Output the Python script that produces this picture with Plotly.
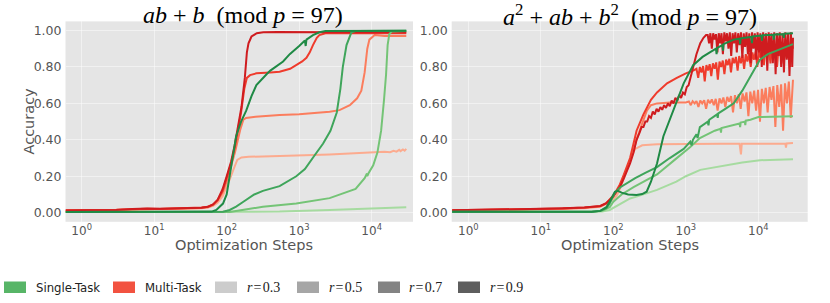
import plotly.graph_objects as go

# ---------------- data: left panel  ab+b (mod 97) ----------------
L_MT03_x = [0.6, 1, 2, 3, 5, 8, 12, 20, 30, 45, 55, 65, 75, 88, 100, 112, 125, 140, 160, 200, 537, 1000, 2630, 9300, 15000, 18000, 20000, 22000, 24000, 25000, 27000, 28500, 30000]
L_MT03_y = [0.011, 0.012, 0.013, 0.014, 0.017, 0.019, 0.018, 0.02, 0.022, 0.025, 0.028, 0.038, 0.055, 0.09, 0.14, 0.19, 0.24, 0.29, 0.303, 0.307, 0.311, 0.313, 0.32, 0.33, 0.335, 0.332, 0.34, 0.335, 0.345, 0.338, 0.347, 0.34, 0.35]

L_MT05_x = [0.6, 1, 2, 3, 5, 8, 12, 20, 30, 45, 55, 65, 75, 88, 100, 115, 130, 155, 170, 185, 250, 537, 1000, 2630, 3600, 5000, 6300, 7200, 8000, 8700, 9300, 11000, 15000, 30000]
L_MT05_y = [0.012, 0.012, 0.013, 0.015, 0.018, 0.02, 0.019, 0.021, 0.023, 0.026, 0.03, 0.042, 0.065, 0.11, 0.17, 0.25, 0.33, 0.46, 0.51, 0.52, 0.527, 0.536, 0.54, 0.554, 0.563, 0.59, 0.628, 0.67, 0.77, 0.9, 0.95, 0.975, 0.97, 0.97]

L_MT07_x = [0.6, 1, 2, 3, 5, 8, 12, 20, 30, 45, 55, 65, 75, 88, 100, 115, 130, 158, 175, 190, 210, 257, 400, 537, 750, 912, 1100, 1260, 1400, 1550, 1750, 1900, 2300, 5000, 10000, 30000]
L_MT07_y = [0.013, 0.013, 0.015, 0.016, 0.019, 0.022, 0.02, 0.023, 0.025, 0.028, 0.033, 0.045, 0.07, 0.12, 0.19, 0.27, 0.36, 0.55, 0.68, 0.74, 0.755, 0.765, 0.77, 0.774, 0.79, 0.81, 0.83, 0.85, 0.88, 0.92, 0.96, 0.975, 0.985, 0.985, 0.985, 0.985]

L_MT09_x = [0.6, 1, 2, 3, 5, 8, 12, 20, 30, 45, 55, 65, 75, 88, 100, 115, 129, 145, 160, 178, 190, 200, 220, 260, 320, 500, 1000, 3000, 10000, 30000]
L_MT09_y = [0.012, 0.013, 0.014, 0.015, 0.02, 0.023, 0.021, 0.022, 0.024, 0.027, 0.032, 0.045, 0.07, 0.13, 0.2, 0.28, 0.37, 0.48, 0.58, 0.74, 0.88, 0.93, 0.967, 0.985, 0.99, 0.992, 0.99, 0.99, 0.99, 0.99]

L_ST03_x = [0.6, 1, 5, 20, 50, 150, 537, 2630, 10000, 30000]
L_ST03_y = [0.004, 0.004, 0.003, 0.002, 0.002, 0.003, 0.006, 0.015, 0.022, 0.03]

L_ST05_x = [0.6, 1, 5, 20, 50, 110, 200, 316, 912, 2630, 6000, 8000, 8600, 8700, 9000, 10500, 12000, 13500, 14800, 15800, 16600, 17500, 19000, 30000]
L_ST05_y = [0.004, 0.004, 0.003, 0.002, 0.002, 0.004, 0.02, 0.033, 0.05, 0.08, 0.13, 0.19, 0.215, 0.2, 0.215, 0.26, 0.33, 0.45, 0.62, 0.76, 0.92, 0.98, 0.995, 0.997]

L_ST07_x = [0.6, 1, 5, 20, 50, 89, 110, 135, 170, 200, 240, 316, 537, 912, 1200, 1600, 2140, 2700, 3300, 3700, 4000, 4500, 5250, 6000, 30000]
L_ST07_y = [0.004, 0.004, 0.003, 0.002, 0.002, 0.005, 0.015, 0.033, 0.06, 0.08, 0.1, 0.12, 0.146, 0.2, 0.24, 0.31, 0.38, 0.45, 0.55, 0.68, 0.8, 0.92, 0.99, 0.997, 0.998]

L_ST09_x = [0.6, 1, 5, 20, 50, 62, 72, 80, 89, 100, 110, 122, 135, 158, 186, 220, 257, 355, 400, 600, 741, 1000, 1150, 1200, 1230, 1260, 1550, 1900, 2300, 5000, 30000]
L_ST09_y = [0.004, 0.004, 0.003, 0.002, 0.003, 0.006, 0.015, 0.03, 0.05, 0.1, 0.2, 0.32, 0.42, 0.5, 0.56, 0.64, 0.7, 0.76, 0.78, 0.83, 0.87, 0.915, 0.935, 0.945, 0.915, 0.95, 0.975, 0.99, 0.997, 0.998, 0.998]

# ---------------- data: right panel  a^2+ab+b^2 (mod 97) ----------------
R_MT03_x = [0.6, 1, 2, 5, 10, 20, 40, 66, 89, 110, 123, 140, 160, 180, 200, 250, 400, 1000, 3000, 5500, 5750, 5900, 8000, 15000, 23500, 24000, 24500, 30000]
R_MT03_y = [0.012, 0.012, 0.013, 0.015, 0.018, 0.02, 0.025, 0.032, 0.06, 0.09, 0.13, 0.19, 0.26, 0.32, 0.35, 0.37, 0.375, 0.378, 0.378, 0.378, 0.32, 0.378, 0.378, 0.38, 0.38, 0.357, 0.38, 0.382]

R_MT05_x = [0.6, 1, 2, 5, 10, 20, 40, 66, 80, 89, 100, 110, 123, 140, 155, 170, 190, 209, 250, 290, 330, 400, 600, 1000,
            1100, 1170, 1240, 1320, 1400, 1490, 1580, 1680, 1790, 1900, 2020, 2150, 2280, 2430, 2580, 2740, 2910, 3100, 3290, 3500,
            3720, 3950, 4200, 4470, 4750, 5050, 5370, 5700, 6060, 6450, 6850, 7280, 7740, 8230, 8750, 9300, 9890, 10510, 11170,
            11880, 12620, 13420, 14270, 15160, 16120, 17140, 18220, 19370, 20590, 21880, 23260, 24730, 26290, 27940, 30000]
R_MT05_y = [0.012, 0.013, 0.014, 0.016, 0.02, 0.022, 0.027, 0.034, 0.05, 0.068, 0.09, 0.112, 0.145, 0.2, 0.24, 0.28, 0.34, 0.4, 0.49, 0.56, 0.59, 0.6, 0.605, 0.605,
            0.61, 0.59, 0.612, 0.6, 0.613, 0.58, 0.615, 0.6, 0.617, 0.57, 0.62, 0.6, 0.622, 0.59, 0.625, 0.56, 0.628, 0.6, 0.632, 0.58,
            0.636, 0.61, 0.64, 0.55, 0.645, 0.6, 0.65, 0.57, 0.655, 0.61, 0.66, 0.53, 0.665, 0.6, 0.67, 0.56, 0.675, 0.5, 0.68,
            0.6, 0.685, 0.55, 0.69, 0.62, 0.695, 0.47, 0.7, 0.58, 0.705, 0.45, 0.71, 0.6, 0.72, 0.52, 0.73]

R_MT07_x = [0.6, 1, 2, 5, 10, 20, 40, 66, 80, 89, 100, 110, 123, 140, 155, 170, 190, 209, 260, 330, 400, 550, 750, 1000, 1260,
            1400, 1480, 1560, 1640, 1730, 1820, 1920, 2020, 2130, 2240, 2360, 2490, 2620, 2760, 2910, 3070, 3230, 3400, 3590, 3780,
            3980, 4190, 4420, 4650, 4900, 5170, 5440, 5730, 6040, 6360, 6700, 7060, 7440, 7840, 8260, 8700, 9170, 9660, 10180,
            10720, 11300, 11900, 12540, 13210, 13920, 14670, 15450, 16280, 17150, 18070, 19040, 20060, 21130, 22270, 23460,
            24720, 26040, 27440, 28910, 30000]
R_MT07_y = [0.013, 0.014, 0.015, 0.017, 0.021, 0.023, 0.028, 0.036, 0.052, 0.072, 0.095, 0.12, 0.155, 0.21, 0.26, 0.3, 0.38, 0.45, 0.54, 0.62, 0.66, 0.71, 0.74, 0.765, 0.78,
            0.79, 0.74, 0.8, 0.77, 0.805, 0.72, 0.81, 0.78, 0.815, 0.75, 0.82, 0.79, 0.825, 0.73, 0.83, 0.8, 0.835, 0.76, 0.84, 0.81,
            0.845, 0.77, 0.85, 0.82, 0.855, 0.78, 0.86, 0.82, 0.865, 0.79, 0.87, 0.83, 0.875, 0.8, 0.88, 0.84, 0.885, 0.8, 0.89,
            0.85, 0.895, 0.81, 0.9, 0.86, 0.905, 0.82, 0.91, 0.85, 0.912, 0.8, 0.915, 0.86, 0.918, 0.82, 0.92,
            0.85, 0.925, 0.8, 0.93, 0.9]

R_MT09_x = [0.6, 1, 2, 5, 10, 20, 40, 66, 80, 89, 100, 110, 123, 140, 155, 170, 190, 209, 230, 245, 260, 276, 293, 311, 330, 350,
            372, 395, 419, 445, 472, 501, 532, 565, 600, 637, 676, 718, 762, 809, 859, 912, 968, 1028, 1090, 1150, 1260, 1400,
            1580, 1750, 1900,
            2000, 2090, 2180, 2280, 2380, 2490, 2600, 2720, 2840, 2970, 3100, 3240, 3390, 3540, 3700, 3870, 4040, 4220, 4410,
            4610, 4820, 5040, 5260, 5500, 5750, 6010, 6280, 6560, 6860, 7170, 7490, 7830, 8180, 8550, 8930, 9330, 9750, 10190,
            10650, 11130, 11630, 12150, 12700, 13270, 13870, 14490, 15140, 15830, 16540, 17280, 18060, 18870, 19720, 20610,
            21540, 22510, 23520, 24580, 25690, 26840, 28050, 29310, 30000]
R_MT09_y = [0.013, 0.014, 0.015, 0.017, 0.021, 0.024, 0.029, 0.037, 0.053, 0.07, 0.09, 0.115, 0.14, 0.19, 0.23, 0.27, 0.33, 0.4, 0.44, 0.47, 0.47, 0.5, 0.5, 0.53, 0.52, 0.555,
            0.54, 0.57, 0.555, 0.58, 0.565, 0.59, 0.575, 0.6, 0.585, 0.615, 0.6, 0.63, 0.615, 0.645, 0.63, 0.66, 0.65, 0.69, 0.7, 0.74, 0.8, 0.87,
            0.93, 0.96, 0.975,
            0.975, 0.93, 0.985, 0.9, 0.985, 0.95, 0.98, 0.88, 0.985, 0.93, 0.985, 0.87, 0.99, 0.94, 0.985, 0.9, 0.99, 0.86, 0.985,
            0.93, 0.99, 0.88, 0.985, 0.92, 0.99, 0.85, 0.985, 0.91, 0.99, 0.87, 0.985, 0.82, 0.99, 0.9, 0.985, 0.84, 0.99, 0.88,
            0.985, 0.8, 0.99, 0.86, 0.985, 0.78, 0.99, 0.88, 0.985, 0.82, 0.99, 0.76, 0.985, 0.86, 0.99, 0.8,
            0.985, 0.77, 0.99, 0.84, 0.985, 0.75, 0.99, 0.8, 0.96]

R_ST03_x = [0.6, 1, 5, 20, 50, 70, 89, 110, 138, 170, 209, 280, 400, 740, 1000, 1580, 2500, 4070, 6000, 10500, 30000]
R_ST03_y = [0.004, 0.004, 0.003, 0.003, 0.003, 0.006, 0.015, 0.035, 0.06, 0.078, 0.088, 0.105, 0.125, 0.17, 0.2, 0.235, 0.25, 0.262, 0.275, 0.288, 0.293]

R_ST05_x = [0.6, 1, 5, 20, 50, 70, 89, 100, 130, 190, 280, 400, 700, 1150, 1560, 2500, 3000, 3050, 3100, 4570, 5500, 5600, 5700, 6500, 6600, 6700, 7760, 10000, 15000, 30000]
R_ST05_y = [0.004, 0.004, 0.004, 0.003, 0.004, 0.01, 0.03, 0.06, 0.1, 0.14, 0.175, 0.21, 0.29, 0.36, 0.41, 0.45, 0.46, 0.44, 0.465, 0.48, 0.49, 0.47, 0.495, 0.5, 0.48, 0.505, 0.51, 0.525, 0.528, 0.53]

R_ST07_x = [0.6, 1, 5, 20, 50, 66, 80, 89, 105, 125, 151, 200, 280, 400, 600, 933, 1150, 1200, 1250, 1400, 1450, 1500, 1560, 2000, 2050, 2100, 2700, 2750, 2800, 3500, 4570, 6000, 7760, 9000, 10500, 13500, 17800, 23000, 30000]
R_ST07_y = [0.005, 0.005, 0.004, 0.004, 0.005, 0.01, 0.025, 0.05, 0.11, 0.14, 0.16, 0.19, 0.22, 0.25, 0.3, 0.35, 0.39, 0.37, 0.4, 0.43, 0.41, 0.445, 0.47, 0.5, 0.48, 0.51, 0.54, 0.52, 0.545, 0.57, 0.6, 0.67, 0.75, 0.8, 0.84, 0.87, 0.89, 0.91, 0.925]

R_ST09_x = [0.6, 1, 5, 20, 50, 66, 80, 89, 97, 105, 115, 130, 160, 209, 250, 288, 330, 400, 490, 676, 933, 1260, 1700, 2140, 2600, 2650, 2700, 3200, 3250, 3300, 4570, 5500, 5600, 5700, 8000, 8150, 8300, 11000, 11200, 11400, 16000, 16300, 16600, 22000, 22400, 22800, 30000]
R_ST09_y = [0.005, 0.005, 0.004, 0.004, 0.005, 0.01, 0.03, 0.06, 0.09, 0.115, 0.12, 0.11, 0.1, 0.097, 0.102, 0.115, 0.17, 0.27, 0.42, 0.56, 0.71, 0.81, 0.855, 0.88, 0.9, 0.87, 0.905, 0.92, 0.89, 0.925, 0.95, 0.955, 0.925, 0.957, 0.965, 0.93, 0.967, 0.972, 0.945, 0.974, 0.977, 0.95, 0.978, 0.98, 0.96, 0.982, 0.985]

# ---------------- labels ----------------
TITLE_L = "<i>ab</i> + <i>b</i>  (mod <i>p</i> = 97)"
TITLE_R = "<i>a</i><sup>2</sup> + <i>ab</i> + <i>b</i><sup>2</sup>  (mod <i>p</i> = 97)"
Y_TICKS = [0.0, 0.2, 0.4, 0.6, 0.8, 1.0]
X_TICKS = [1, 10, 100, 1000, 10000]
X_TICKTEXT = ["10<sup>0</sup>", "10<sup>1</sup>", "10<sup>2</sup>", "10<sup>3</sup>", "10<sup>4</sup>"]
HS = "\u200a"
LEGEND_LABELS = ["Single-Task", "Multi-Task",
                 f"<i>r</i>{HS}={HS}0.3", f"<i>r</i>{HS}={HS}0.5", f"<i>r</i>{HS}={HS}0.7", f"<i>r</i>{HS}={HS}0.9"]

RED = {"0.3": "#fcab8f", "0.5": "#fb7d5d", "0.7": "#ef3b2c", "0.9": "#cf1c1f"}
GREEN = {"0.3": "#a6dba0", "0.5": "#74c476", "0.7": "#3fa55b", "0.9": "#1f8a45"}
LEG_COLORS = ["#57b567", "#f25240", "#cccccc", "#a6a6a6", "#838383", "#5e5e5e"]

W, H = 830, 303


def px(x):
    return x / W


def py(y):
    return 1 - y / H


fig = go.Figure()

panels = {
    "x": [(L_MT03_x, L_MT03_y, RED["0.3"]), (L_MT05_x, L_MT05_y, RED["0.5"]),
          (L_MT07_x, L_MT07_y, RED["0.7"]), (L_MT09_x, L_MT09_y, RED["0.9"]),
          (L_ST03_x, L_ST03_y, GREEN["0.3"]), (L_ST05_x, L_ST05_y, GREEN["0.5"]),
          (L_ST07_x, L_ST07_y, GREEN["0.7"]), (L_ST09_x, L_ST09_y, GREEN["0.9"])],
    "x2": [(R_MT03_x, R_MT03_y, RED["0.3"]), (R_MT05_x, R_MT05_y, RED["0.5"]),
           (R_MT07_x, R_MT07_y, RED["0.7"]), (R_MT09_x, R_MT09_y, RED["0.9"]),
           (R_ST03_x, R_ST03_y, GREEN["0.3"]), (R_ST05_x, R_ST05_y, GREEN["0.5"]),
           (R_ST07_x, R_ST07_y, GREEN["0.7"]), (R_ST09_x, R_ST09_y, GREEN["0.9"])],
}
for xa, series in panels.items():
    ya = "y" if xa == "x" else "y2"
    for xs, ys, c in series:
        fig.add_trace(go.Scatter(x=xs, y=ys, xaxis=xa, yaxis=ya, mode="lines",
                                 line=dict(color=c, width=2), showlegend=False,
                                 hoverinfo="skip"))

tickfont = dict(family="DejaVu Sans", size=12, color="#555555")
common_x = dict(type="log", tickvals=X_TICKS, ticktext=X_TICKTEXT, showgrid=True,
                gridcolor="rgba(255,255,255,0.45)", gridwidth=1, zeroline=False,
                showline=False, ticks="", tickfont=tickfont, ticklabelstandoff=0)
common_y = dict(range=[-0.05, 1.05], tickvals=Y_TICKS, tickformat=".2f", showgrid=True,
                gridcolor="rgba(255,255,255,0.45)", gridwidth=1, zeroline=False,
                showline=False, ticks="", tickfont=dict(tickfont, size=12.5), ticklabelstandoff=3)

ydom = [py(221.8), py(21.4)]
fig.update_layout(
    width=W, height=H, margin=dict(l=0, r=0, t=0, b=0),
    paper_bgcolor="white", plot_bgcolor="#e5e5e5", showlegend=False,
    xaxis=dict(common_x, domain=[px(65.5), px(413)], range=[-0.223, 4.57], anchor="y"),
    yaxis=dict(common_y, domain=ydom, anchor="x"),
    xaxis2=dict(common_x, domain=[px(451.7), px(807.7)], range=[-0.229, 4.68], anchor="y2"),
    yaxis2=dict(common_y, domain=ydom, anchor="x2"),
)

ann = []
titlefont = dict(family="Liberation Serif", size=24, color="black")
ann.append(dict(text=TITLE_L, x=px(243), y=py(15), xref="paper", yref="paper",
                showarrow=False, font=titlefont, xanchor="center", yanchor="middle"))
ann.append(dict(text=TITLE_R, x=px(630), y=py(15), xref="paper", yref="paper",
                showarrow=False, font=titlefont, xanchor="center", yanchor="middle"))
axfont = dict(family="DejaVu Sans", size=14.5, color="#555555")
for cx in (244, 630):
    ann.append(dict(text="Optimization Steps", x=px(cx), y=py(245), xref="paper", yref="paper",
                    showarrow=False, font=axfont, xanchor="center", yanchor="middle"))
ann.append(dict(text="Accuracy", x=px(28), y=py(121.5), xref="paper", yref="paper",
                showarrow=False, font=axfont, xanchor="center", yanchor="middle", textangle=-90))

# legend (drawn as patches + labels below the plots)
patch_x = [4, 113, 215, 297, 378, 458]
text_x = [34, 143, 245, 327, 407, 488]
shapes = []
for i, lab in enumerate(LEGEND_LABELS):
    shapes.append(dict(type="rect", xref="paper", yref="paper",
                       x0=px(patch_x[i]), x1=px(patch_x[i] + 22), y0=py(293), y1=py(281.5),
                       fillcolor=LEG_COLORS[i], line=dict(width=0)))
    if i < 2:
        f = dict(family="Liberation Sans Narrow, DejaVu Sans Condensed, DejaVu Sans", size=13, color="#222222")
    else:
        f = dict(family="Liberation Serif", size=14, color="#222222")
    ann.append(dict(text=lab, x=px(text_x[i]), y=py(287), xref="paper", yref="paper",
                    showarrow=False, font=f, xanchor="left", yanchor="middle"))

fig.update_layout(annotations=ann, shapes=shapes)
fig.write_html("out.html", config={"displayModeBar": False},
               post_script="document.body.style.margin='0px';")
